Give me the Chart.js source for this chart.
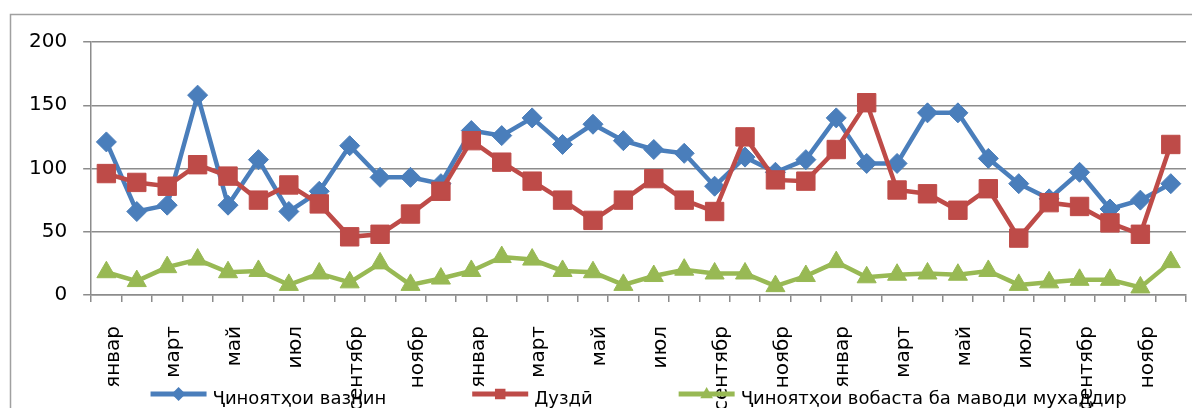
<!DOCTYPE html>
<html>
<head>
<meta charset="utf-8">
<script src="https://cdn.jsdelivr.net/npm/chart.js@4"></script>
<style>
  html, body { margin: 0; padding: 0; background: #fff; }
  #wrap { width: 1192px; height: 408px; overflow: hidden; }
</style>
</head>
<body>
<div id="wrap"><canvas id="crimeChart" width="1200" height="408"></canvas></div>
<script>
var months = ['январ', 'феврал', 'март', 'апрел', 'май', 'июн', 'июл', 'август', 'сентябр', 'октябр', 'ноябр', 'декабр'];
var labels = months.concat(months, months);

var seriesNames = ['Ҷиноятҳои вазнин', 'Дуздӣ', 'Ҷиноятҳои вобаста ба маводи мухаддир'];

var heavyCrimes = [121, 66, 71, 158, 71, 107, 66, 82, 118, 93, 93, 88,
                   130, 126, 140, 119, 135, 122, 115, 112, 86, 109, 97, 107,
                   140, 104, 104, 144, 144, 108, 88, 76, 97, 68, 75, 88];
var theft = [96, 89, 86, 103, 94, 75, 87, 72, 46, 48, 64, 82,
             122, 105, 90, 75, 59, 75, 92, 75, 66, 125, 91, 90,
             115, 152, 83, 80, 67, 84, 45, 73, 70, 57, 48, 119];
var drugCrimes = [18, 11, 22, 28, 18, 19, 8, 17, 10, 25, 8, 13,
                  19, 30, 28, 19, 18, 8, 15, 20, 17, 17, 7, 15,
                  26, 14, 16, 17, 16, 19, 8, 10, 12, 12, 6, 26];

var yTicks = [0, 50, 100, 150, 200];

var FONT = 'DejaVu Sans';
var GRID = '#8c8c8c';

// white background + outer frame like the Excel chart
var framePlugin = {
	id: 'frame',
	beforeDraw: function(chart) {
		var ctx = chart.ctx;
		ctx.save();
		ctx.fillStyle = '#fff';
		ctx.fillRect(0, 0, chart.width, chart.height);
		ctx.strokeStyle = '#a0a0a0';
		ctx.lineWidth = 1.5;
		ctx.strokeRect(10.5, 14.5, 1400, 600);
		ctx.restore();
	}
};

function marker(ctx, style, x, y, r) {
	ctx.beginPath();
	if (style === 'rectRot') {
		ctx.moveTo(x, y - r); ctx.lineTo(x + r, y); ctx.lineTo(x, y + r); ctx.lineTo(x - r, y);
	} else if (style === 'rect') {
		ctx.rect(x - r * 0.75, y - r * 0.75, r * 1.5, r * 1.5);
	} else {
		ctx.moveTo(x, y - r); ctx.lineTo(x + r * 0.9, y + r * 0.6); ctx.lineTo(x - r * 0.9, y + r * 0.6);
	}
	ctx.closePath();
	ctx.fill();
}

// legend with line + marker, centred under the plot area
var legendPlugin = {
	id: 'lineLegend',
	afterDraw: function(chart) {
		var ctx = chart.ctx;
		var sets = chart.data.datasets;
		var lineLen = 56, gapText = 6, gapItem = 86;
		ctx.save();
		ctx.font = '18px "' + FONT + '"';
		var total = 0;
		sets.forEach(function(ds, i) {
			total += lineLen + gapText + ctx.measureText(ds.label).width;
			if (i < sets.length - 1) total += gapItem;
		});
		var x = (chart.chartArea.left + chart.chartArea.right) / 2 - total / 2;
		var y = 394;
		sets.forEach(function(ds) {
			ctx.strokeStyle = ds.borderColor;
			ctx.fillStyle = ds.borderColor;
			ctx.lineWidth = 5;
			ctx.beginPath();
			ctx.moveTo(x, y);
			ctx.lineTo(x + lineLen, y);
			ctx.stroke();
			marker(ctx, ds.pointStyle, x + lineLen / 2, y, 7);
			ctx.fillStyle = '#000';
			ctx.textBaseline = 'alphabetic';
			ctx.fillText(ds.label, x + lineLen + gapText, y + 10);
			x += lineLen + gapText + ctx.measureText(ds.label).width + gapItem;
		});
		ctx.restore();
	}
};

var ctx = document.getElementById('crimeChart');
var crimeChart = new Chart(ctx, {
	type: 'line',
	data: {
		labels: labels,
		datasets: [{
			label: seriesNames[0],
			data: heavyCrimes,
			borderColor: '#4a7ebb',
			backgroundColor: '#4a7ebb',
			borderWidth: 4.5,
			pointStyle: 'rectRot',
			pointRadius: 10,
			pointBorderWidth: 1,
			order: 3
		}, {
			label: seriesNames[1],
			data: theft,
			borderColor: '#be4b48',
			backgroundColor: '#be4b48',
			borderWidth: 4.5,
			pointStyle: 'rect',
			pointRadius: 13,
			pointBorderWidth: 1,
			order: 2
		}, {
			label: seriesNames[2],
			data: drugCrimes,
			borderColor: '#98b954',
			backgroundColor: '#98b954',
			borderWidth: 4.5,
			pointStyle: 'triangle',
			pointRadius: 11,
			pointBorderWidth: 1,
			order: 1
		}]
	},
	options: {
		responsive: false,
		animation: false,
		layout: { padding: { left: 13, top: 42, right: 6, bottom: 0 } },
		plugins: {
			legend: { display: false },
			tooltip: { enabled: false }
		},
		scales: {
			x: {
				offset: true,
				grid: { offset: true, drawOnChartArea: false, tickLength: 7, color: GRID, lineWidth: 1.5 },
				border: { color: GRID, width: 1.5 },
				ticks: {
					autoSkip: false,
					minRotation: 90,
					maxRotation: 90,
					padding: 24,
					labelOffset: 7,
					color: '#000',
					font: { family: FONT, size: 20 },
					callback: function(v, i) { return i % 2 === 0 ? this.getLabelForValue(v) : ''; }
				},
				afterFit: function(scale) {
					scale.height = 113;
					scale.paddingLeft = 0;
					scale.paddingRight = 0;
				}
			},
			y: {
				min: yTicks[0],
				max: yTicks[yTicks.length - 1],
				afterBuildTicks: function(scale) {
					scale.ticks = yTicks.map(function(v) { return { value: v }; });
				},
				grid: { color: GRID, tickLength: 8, lineWidth: 1.5 },
				border: { color: GRID, width: 1.5 },
				ticks: {
					padding: 16,
					color: '#000',
					font: { family: FONT, size: 20 }
				}
			}
		}
	},
	plugins: [framePlugin, legendPlugin]
});
</script>
</body>
</html>
